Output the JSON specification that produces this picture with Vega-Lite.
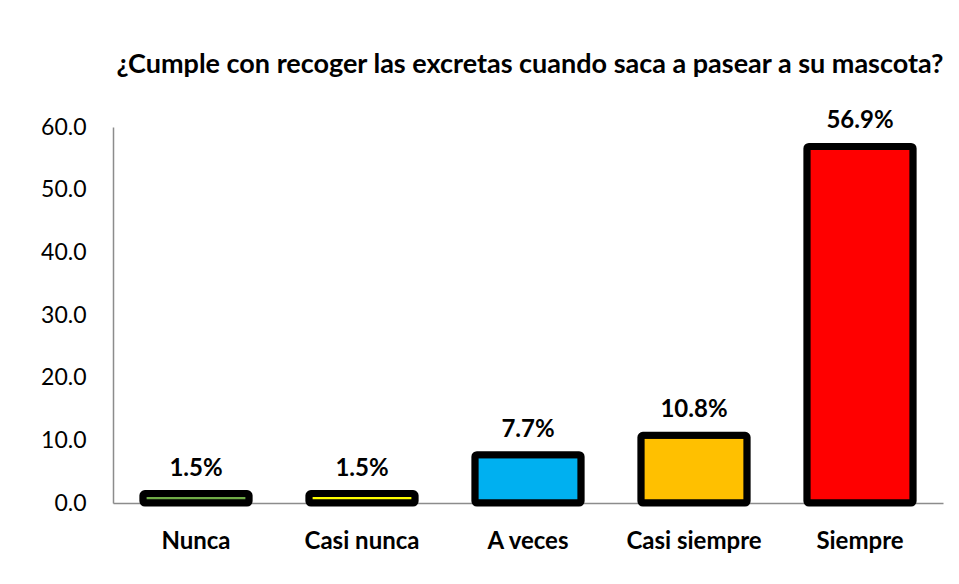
{
  "$schema": "https://vega.github.io/schema/vega-lite/v6.json",
  "autosize": {"type": "none"},
  "width": 830,
  "height": 376,
  "padding": {"left": 113, "top": 127, "right": 16, "bottom": 81},
  "background": "white",
  "title": {
    "text": "¿Cumple con recoger las excretas cuando saca a pasear a su mascota?",
    "font": "Lato",
    "fontSize": 27,
    "fontWeight": "bold",
    "color": "#000000",
    "anchor": "middle",
    "frame": "group",
    "offset": 30,
    "dx": 2
  },
  "config": {"view": {"stroke": null}},
  "data": {
    "values": [
      {"cat": "Nunca", "val": 1.5, "color": "#70AD47"},
      {"cat": "Casi nunca", "val": 1.5, "color": "#FFFF00"},
      {"cat": "A veces", "val": 7.7, "color": "#00B0F0"},
      {"cat": "Casi siempre", "val": 10.8, "color": "#FFC000"},
      {"cat": "Siempre", "val": 56.9, "color": "#FF0000"}
    ]
  },
  "encoding": {
    "x": {
      "field": "cat", "type": "nominal", "sort": null,
      "scale": {"paddingInner": 0.36, "paddingOuter": 0.18},
      "axis": {
        "title": null, "labelAngle": 0, "labelFont": "Lato", "labelFontSize": 24,
        "labelFontWeight": "bold", "labelColor": "#000000", "labelPadding": 26,
        "ticks": false, "domainColor": "#8C8C8C", "domainWidth": 1.5
      }
    },
    "y": {
      "field": "val", "type": "quantitative",
      "scale": {"domain": [0, 60]},
      "axis": {
        "title": null, "values": [0, 10, 20, 30, 40, 50, 60], "format": ".1f",
        "grid": false, "ticks": false, "labelFont": "Lato", "labelFontSize": 23,
        "labelColor": "#000000", "labelPadding": 27, "domainColor": "#8C8C8C", "domainWidth": 1.5
      }
    }
  },
  "layer": [
    {
      "mark": {"type": "bar", "stroke": "#000000", "strokeWidth": 7, "strokeJoin": "round", "cornerRadius": 2},
      "encoding": {"color": {"field": "color", "type": "nominal", "scale": null}}
    },
    {
      "transform": [{"calculate": "format(datum.val, '.1f') + '%'", "as": "label"}],
      "mark": {"type": "text", "font": "Lato", "fontSize": 24, "fontWeight": "bold", "baseline": "alphabetic", "dy": -18, "color": "#000000"},
      "encoding": {"text": {"field": "label", "type": "nominal"}}
    }
  ]
}
